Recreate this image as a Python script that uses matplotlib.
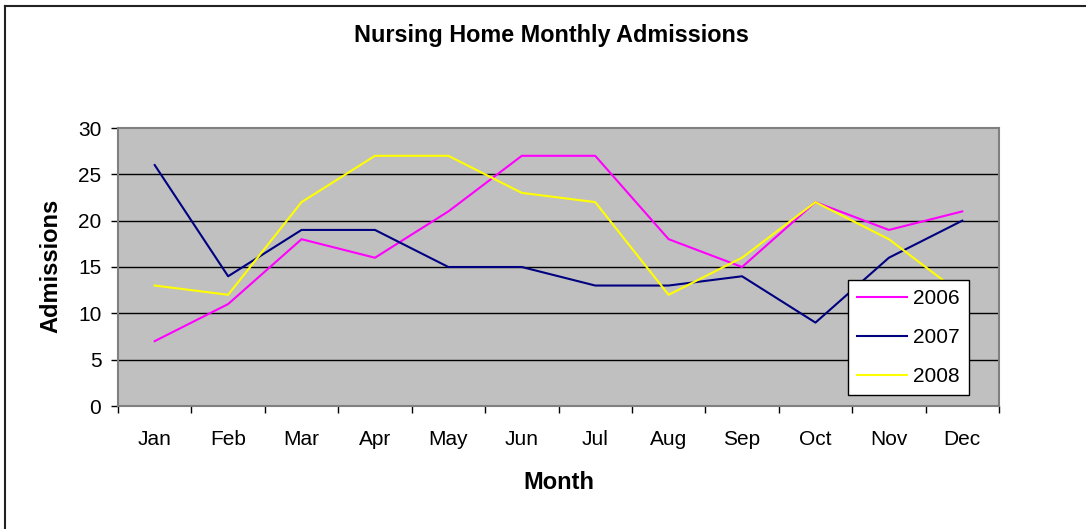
import matplotlib
matplotlib.use("Agg")
import matplotlib.pyplot as plt
from matplotlib.lines import Line2D

plt.rcParams['font.family'] = ['Liberation Sans', 'DejaVu Sans']

months = ["Jan", "Feb", "Mar", "Apr", "May", "Jun", "Jul", "Aug", "Sep", "Oct", "Nov", "Dec"]
s2006 = [7, 11, 18, 16, 21, 27, 27, 18, 15, 22, 19, 21]
s2007 = [26, 14, 19, 19, 15, 15, 13, 13, 14, 9, 16, 20]
s2008 = [13, 12, 22, 27, 27, 23, 22, 12, 16, 22, 18, 12]
series = [("2006", s2006, "#FF00FF"), ("2007", s2007, "#000080"), ("2008", s2008, "#FFFF00")]

W, H = 1086, 529
fig = plt.figure(figsize=(W / 100, H / 100), dpi=100)
fig.patch.set_facecolor("white")

def fx(px):
    return px / W

def fy(py):
    return 1 - py / H

# chart-area border (only top and left visible in the reference crop)
fig.add_artist(Line2D([fx(4.5), fx(4.5)], [fy(5.5), 0], transform=fig.transFigure,
                      color="#222222", linewidth=1.5))
fig.add_artist(Line2D([fx(4.5), 1], [fy(5.5), fy(5.5)], transform=fig.transFigure,
                      color="#222222", linewidth=1.5))

x0, x1, y0, y1 = 118, 999, 128, 406
ax = fig.add_axes([fx(x0), fy(y1), (x1 - x0) / W, (y1 - y0) / H])
ax.set_facecolor("#C0C0C0")

x = list(range(len(months)))
for name, vals, col in series:
    ax.plot(x, vals, color=col, linewidth=1.5, label=name, zorder=3)

ax.set_xlim(-0.5, len(months) - 0.5)
ax.set_ylim(0, 30)
ax.set_yticks(range(0, 31, 5))
ax.set_xticks(x)
ax.set_xticklabels(months)
ax.set_xticks([i - 0.5 for i in range(len(months) + 1)], minor=True)
ax.tick_params(axis="x", which="major", length=0, pad=17, labelsize=15)
ax.tick_params(axis="x", which="minor", length=5, width=1, color="black", direction="out")
ax.tick_params(axis="y", which="major", length=5, width=1, color="black", direction="out",
               labelsize=15, pad=7)
for y in range(5, 30, 5):
    ax.axhline(y, color="black", linewidth=1, zorder=1)
for s in ax.spines.values():
    s.set_color("#808080")
    s.set_linewidth(1.5)

fig.text(fx(551), fy(42), "Nursing Home Monthly Admissions", ha="center", va="baseline",
         fontsize=16.8, fontweight="bold")
fig.text(fx(559), fy(489), "Month", ha="center", va="baseline", fontsize=17, fontweight="bold")
fig.text(fx(51), fy(265.5), "Admissions", ha="center", va="center", rotation=90,
         fontsize=17, fontweight="bold")

leg = ax.legend(loc="upper left", bbox_to_anchor=((848 - x0) / (x1 - x0), 1 - (280 - y0) / (y1 - y0)),
                frameon=True, fancybox=False, fontsize=15, handlelength=2.4, borderpad=0.45,
                labelspacing=0.95, handletextpad=0.25, borderaxespad=0)
leg.get_frame().set_edgecolor("black")
leg.get_frame().set_facecolor("white")
leg.get_frame().set_linewidth(1)
leg.get_frame().set_alpha(1)

fig.savefig("out.png", dpi=100)
